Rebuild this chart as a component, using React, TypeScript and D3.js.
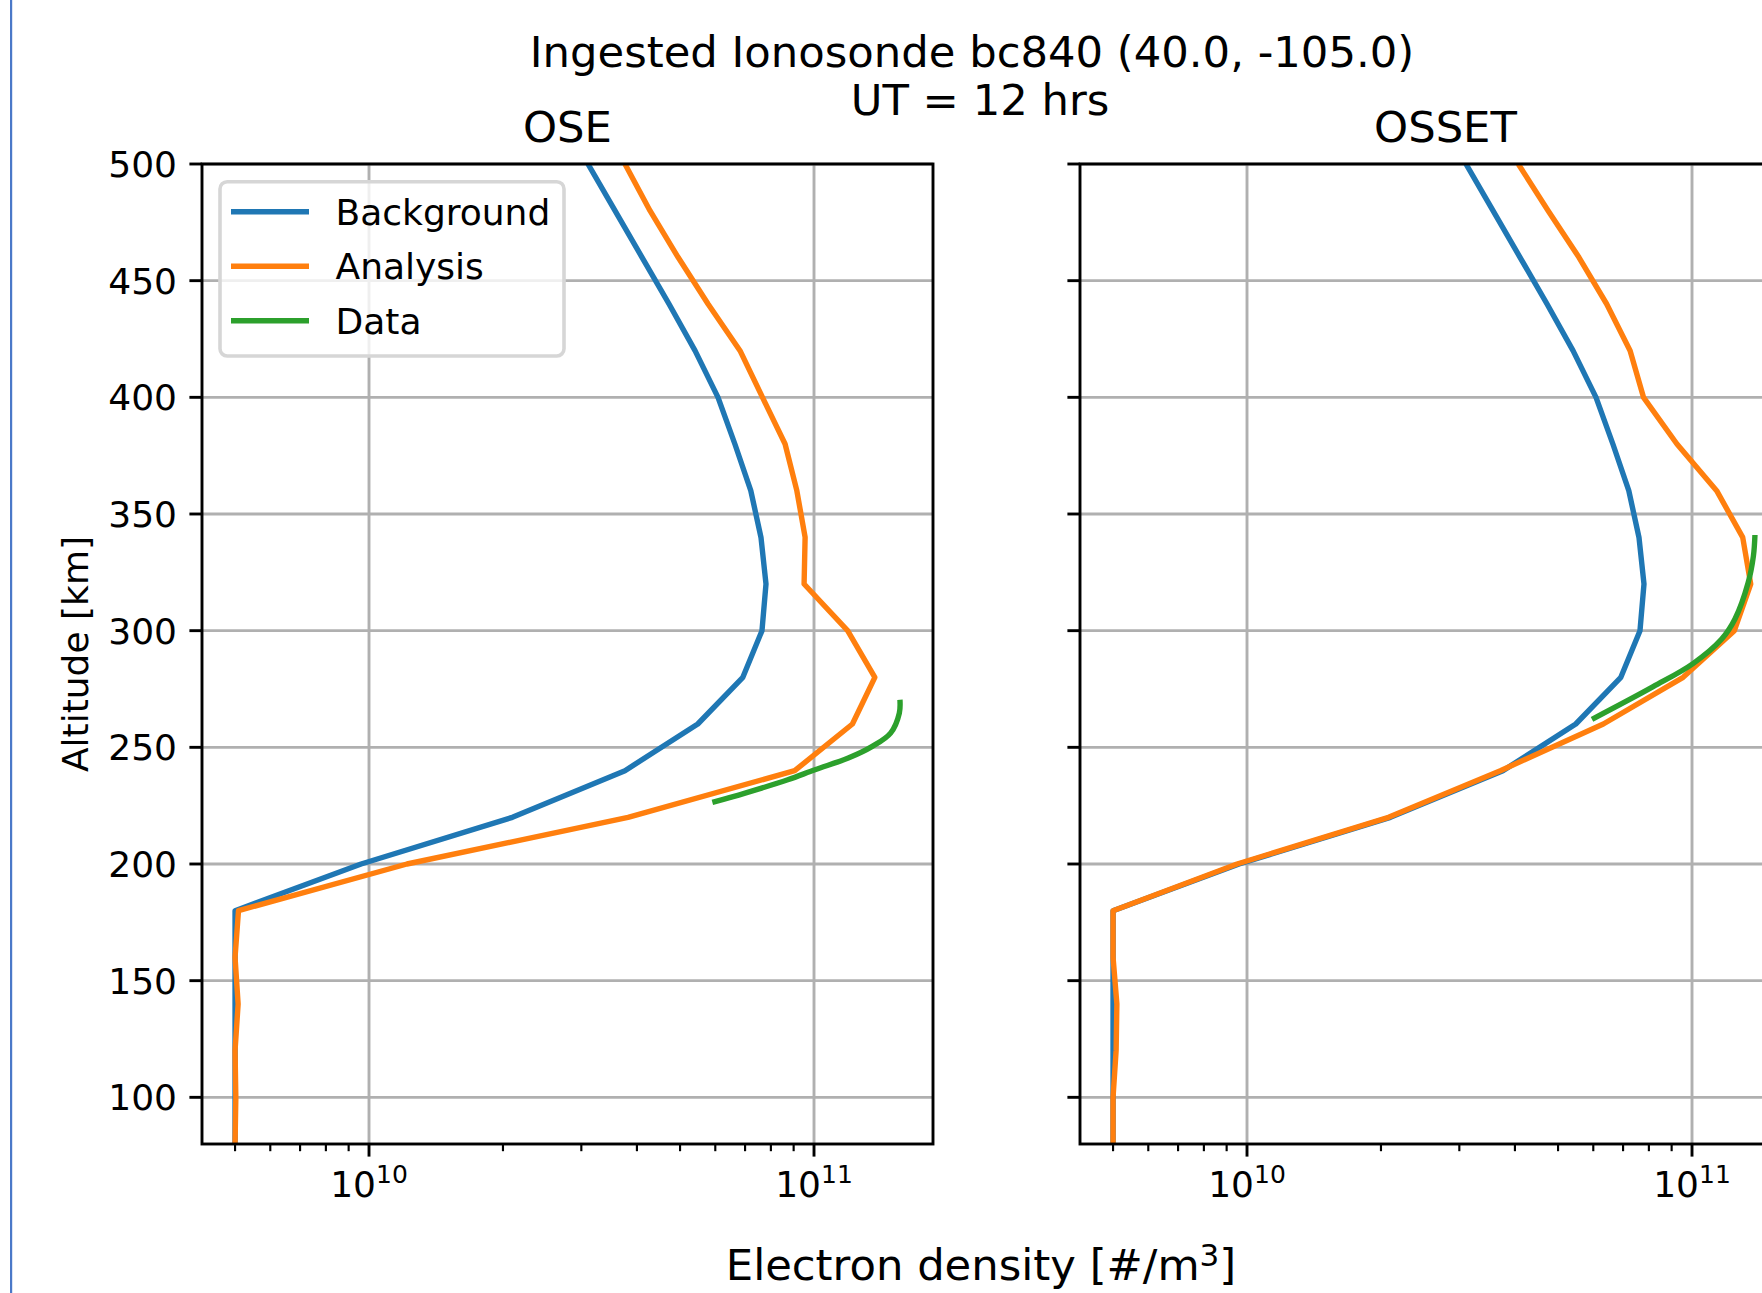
import React from 'react';
import * as d3 from 'd3';

// ---------- data ----------
const altitudeKm = [80, 100, 120, 140, 160, 180, 200, 220, 240, 260, 280, 300, 320, 340, 360, 380, 400, 420, 440, 460, 480, 500];
const backgroundNe = [5.0e9, 5.0e9, 5.0e9, 5.0e9, 5.0e9, 5.0e9, 9.6e9, 2.1e10, 3.76e10, 5.48e10, 6.92e10, 7.64e10, 7.8e10, 7.6e10, 7.21e10, 6.64e10, 6.085e10, 5.403e10, 4.723e10, 4.107e10, 3.571e10, 3.105e10];
const oseAnalysisNe = [5.0e9, 5.02e9, 5.0e9, 5.08e9, 5.0e9, 5.09e9, 1.217e10, 3.82e10, 9.05e10, 1.22e11, 1.37e11, 1.19e11, 9.5e10, 9.55e10, 9.15e10, 8.61e10, 7.66e10, 6.82e10, 5.78e10, 4.95e10, 4.28e10, 3.76e10];
const ossetAnalysisNe = [5.0e9, 5.0e9, 5.08e9, 5.1e9, 5.0e9, 5.0e9, 9.5e9, 2.08e10, 3.71e10, 6.32e10, 9.55e10, 1.245e11, 1.355e11, 1.3e11, 1.136e11, 9.25e10, 7.78e10, 7.26e10, 6.43e10, 5.57e10, 4.75e10, 4.07e10];
const oseDataAlt = [226.4, 230.4, 236.1, 240.4, 245.4, 250.4, 256.1, 264.7, 270.4];
const oseDataNe = [5.91e10, 7.0e10, 8.73e10, 1.005e11, 1.194e11, 1.352e11, 1.486e11, 1.555e11, 1.56e11];
const ossetDataAlt = [262, 276, 286, 296.4, 305, 320.5, 332, 341];
const ossetDataNe = [5.96e10, 8.18e10, 1.007e11, 1.166e11, 1.249e11, 1.337e11, 1.374e11, 1.385e11];

const yTicks = [100, 150, 200, 250, 300, 350, 400, 450, 500];
const xMajorTicks = [1e10, 1e11];
const xMajorExp = ['10', '11'];
const xMinorTicks = [5e9, 6e9, 7e9, 8e9, 9e9, 2e10, 3e10, 4e10, 5e10, 6e10, 7e10, 8e10, 9e10];
const seriesNames = ['Background', 'Analysis', 'Data'];
const seriesColors = ['#1f77b4', '#ff7f0e', '#2ca02c'];

const titleLine1 = 'Ingested Ionosonde bc840 (40.0, -105.0)';
const titleLine2 = 'UT = 12 hrs';
const panelTitles = ['OSE', 'OSSET'];

// ---------- layout ----------
const W = 1762;
const H = 1293;
const PW = 731;
const PH = 980;
const TOP = 164;
const LEFTS = [202, 1080];
const FONT = 'DejaVu Sans';
const TICK_FS = 36;
const BIG_FS = 43.3;
const LW = 5.4;
const SPINE = 2.9;

const xScale = d3.scaleLog().domain([Math.pow(10, 9.6247), Math.pow(10, 11.2674)]).range([0, PW]);
const yScale = d3.scaleLinear().domain([80, 500]).range([PH, 0]);

function Panel({ idx, analysis, dAlt, dNe, showLabels, showLegend }: any) {
  const x0 = LEFTS[idx];
  const clipId = `clip-${idx}`;
  const line = d3
    .line<[number, number]>()
    .x((d) => xScale(d[0]))
    .y((d) => yScale(d[1]));
  const smooth = d3
    .line<[number, number]>()
    .x((d) => xScale(d[0]))
    .y((d) => yScale(d[1]))
    .curve(d3.curveCatmullRom.alpha(0.5));
  const bg = backgroundNe.map((v, i) => [v, altitudeKm[i]] as [number, number]);
  const an = analysis.map((v: number, i: number) => [v, altitudeKm[i]] as [number, number]);
  const da = dNe.map((v: number, i: number) => [v, dAlt[i]] as [number, number]);
  return (
    <g transform={`translate(${x0},${TOP})`}>
      <defs>
        <clipPath id={clipId}>
          <rect x={0} y={0} width={PW} height={PH} />
        </clipPath>
      </defs>
      {/* grid */}
      {yTicks.map((t) => (
        <line key={'gy' + t} x1={0} x2={PW} y1={yScale(t)} y2={yScale(t)} stroke="#b0b0b0" strokeWidth={2.9} />
      ))}
      {xMajorTicks.map((t) => (
        <line key={'gx' + t} x1={xScale(t)} x2={xScale(t)} y1={0} y2={PH} stroke="#b0b0b0" strokeWidth={2.9} />
      ))}
      {/* lines */}
      <g clipPath={`url(#${clipId})`}>
        <path d={line(bg) || ''} fill="none" stroke={seriesColors[0]} strokeWidth={LW} strokeLinejoin="round" strokeLinecap="butt" />
        <path d={line(an) || ''} fill="none" stroke={seriesColors[1]} strokeWidth={LW} strokeLinejoin="round" strokeLinecap="butt" />
        <path d={smooth(da) || ''} fill="none" stroke={seriesColors[2]} strokeWidth={LW} strokeLinejoin="round" strokeLinecap="butt" />
      </g>
      {/* spines */}
      <rect x={0} y={0} width={PW} height={PH} fill="none" stroke="#000" strokeWidth={SPINE} />
      {/* y ticks */}
      {yTicks.map((t) => (
        <g key={'yt' + t}>
          <line x1={-12.6} x2={0} y1={yScale(t)} y2={yScale(t)} stroke="#000" strokeWidth={2.9} />
          {showLabels && (
            <text x={-25} y={yScale(t) + 13} textAnchor="end" fontSize={TICK_FS} fontFamily={FONT} fill="#000">
              {t}
            </text>
          )}
        </g>
      ))}
      {/* x ticks */}
      {xMinorTicks.map((t) => (
        <line key={'xm' + t} x1={xScale(t)} x2={xScale(t)} y1={PH} y2={PH + 7.2} stroke="#000" strokeWidth={2.15} />
      ))}
      {xMajorTicks.map((t, i) => (
        <g key={'xt' + t}>
          <line x1={xScale(t)} x2={xScale(t)} y1={PH} y2={PH + 12.6} stroke="#000" strokeWidth={2.9} />
          <text x={xScale(t)} y={PH + 52.7} textAnchor="middle" fontSize={TICK_FS} fontFamily={FONT} fill="#000">
            10
            <tspan dy={-13.4} fontSize={25}>
              {xMajorExp[i]}
            </tspan>
          </text>
        </g>
      ))}
      {/* title */}
      <text x={PW / 2} y={-22.3} textAnchor="middle" fontSize={BIG_FS} fontFamily={FONT} fill="#000">
        {panelTitles[idx]}
      </text>
      {showLegend && (
        <g>
          <rect x={18} y={17.7} width={344} height={174.3} rx={7.2} ry={7.2} fill="#ffffff" fillOpacity={0.8} stroke="#d6d6d6" strokeWidth={3.6} />
          {seriesNames.map((n, i) => (
            <g key={n}>
              <line x1={29} x2={107} y1={47.7 + i * 54.5} y2={47.7 + i * 54.5} stroke={seriesColors[i]} strokeWidth={LW} />
              <text x={133.5} y={47.7 + i * 54.5 + 12.8} fontSize={TICK_FS} fontFamily={FONT} fill="#000">
                {n}
              </text>
            </g>
          ))}
        </g>
      )}
    </g>
  );
}

export default function App() {
  return (
    <svg
      width={W}
      height={H}
      viewBox={`0 0 ${W} ${H}`}
      style={{ position: 'absolute', left: 0, top: 0, background: '#fff', overflow: 'hidden' }}
    >
      <rect x={0} y={0} width={W} height={H} fill="#fff" />
      <rect x={10} y={0} width={2.2} height={H} fill="#4a78c8" />
      <text x={972} y={66.7} textAnchor="middle" fontSize={BIG_FS} fontFamily={FONT} fill="#000">
        {titleLine1}
      </text>
      <text x={980} y={115} textAnchor="middle" fontSize={BIG_FS} fontFamily={FONT} fill="#000">
        {titleLine2}
      </text>
      <Panel idx={0} analysis={oseAnalysisNe} dAlt={oseDataAlt} dNe={oseDataNe} showLabels={true} showLegend={true} />
      <Panel idx={1} analysis={ossetAnalysisNe} dAlt={ossetDataAlt} dNe={ossetDataNe} showLabels={false} showLegend={false} />
      <text
        transform={`translate(88,${TOP + PH / 2}) rotate(-90)`}
        textAnchor="middle"
        fontSize={TICK_FS}
        fontFamily={FONT}
        fill="#000"
      >
        Altitude [km]
      </text>
      <text x={981} y={1280} textAnchor="middle" fontSize={BIG_FS} fontFamily={FONT} fill="#000">
        Electron density [#/m
        <tspan dy={-14} fontSize={31}>
          3
        </tspan>
        <tspan dy={14}>]</tspan>
      </text>
    </svg>
  );
}
